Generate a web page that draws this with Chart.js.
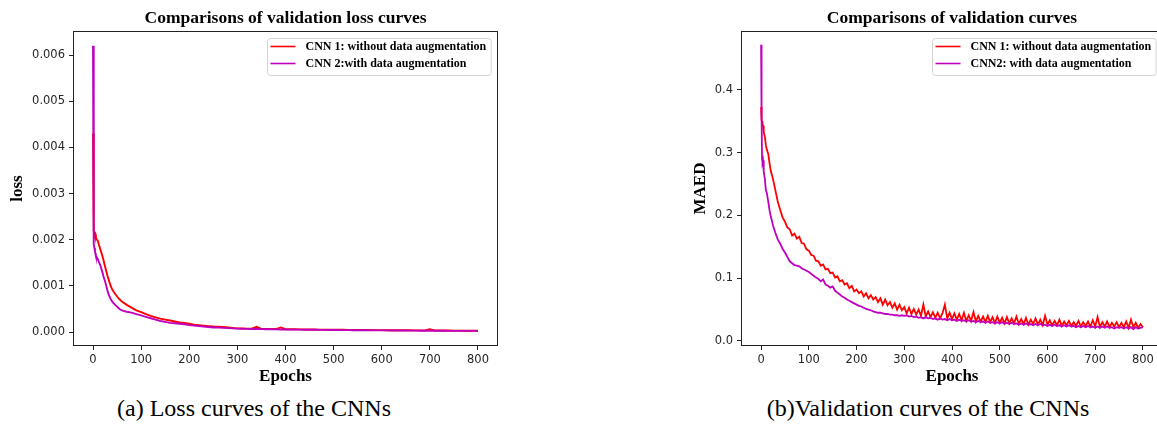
<!DOCTYPE html>
<html>
<head>
<meta charset="utf-8">
<title>Comparisons of validation curves</title>
<script src="https://cdn.jsdelivr.net/npm/chart.js@4.4.0/dist/chart.umd.min.js"></script>
<style>
  html, body { margin: 0; padding: 0; background: #fff; }
  body { width: 1157px; height: 426px; overflow: hidden; position: relative; }
  .panel { position: absolute; top: 0; }
  .caption {
    position: absolute; top: 394px;
    font-family: 'Liberation Serif', serif; font-size: 24px; line-height: 28px;
    color: #000; white-space: nowrap; transform: translateX(-50%);
  }
</style>
</head>
<body>
<canvas id="lossChart" class="panel" width="560" height="390" style="left:0"></canvas>
<canvas id="maedChart" class="panel" width="500" height="390" style="left:680px"></canvas>
<div class="caption" style="left:254px">(a) Loss curves of the CNNs</div>
<div class="caption" style="left:928px">(b)Validation curves of the CNNs</div>
<script>
// tick labels
const epochTicks = [0, 100, 200, 300, 400, 500, 600, 700, 800];
const lossTicks = [0, 0.001, 0.002, 0.003, 0.004, 0.005, 0.006];
const maedTicks = [0, 0.1, 0.2, 0.3, 0.4];

// (a) validation loss, dense at the start then every 10 epochs
const lossEpochs = [0, 1, 2, 3, 4, 5, 6, 8, 10, 12, 15, 18, 20, 22, 25, 28, 30, 33, 36, 40, 45, 50, 55, 60, 70, 80, 90];
for (let e = 100; e <= 800; e += 10) lossEpochs.push(e);

const lossCnn1 = [
  0.0043, 0.0025, 0.0022, 0.00215, 0.0021, 0.00212, 0.00205, 0.002, 0.00198, 0.0019,
  0.0018, 0.0017, 0.00163, 0.00155, 0.00142, 0.0013, 0.00122, 0.00112, 0.00102, 0.00092,
  0.00084, 0.00077, 0.00071, 0.00066, 0.00059, 0.00053, 0.00047,
  // 100 - 190
  0.00043, 0.00039, 0.00035, 0.00032, 0.00029, 0.00027, 0.00025, 0.00023, 0.00021, 0.0002,
  // 200 - 290
  0.00018, 0.00016, 0.00015, 0.00014, 0.00013, 0.00012, 0.000115, 0.00011, 0.0001, 0.00009,
  // 300 - 390
  0.00008, 0.000078, 0.000075, 0.000072, 0.000115, 0.00007, 0.000068, 0.000066, 0.000065, 0.0001,
  // 400 - 490
  0.000062, 0.00006, 0.00006, 0.000058, 0.000057, 0.000056, 0.000055, 0.000054, 0.000053, 0.000052,
  // 500 - 590
  0.00005, 0.00005, 0.000049, 0.000048, 0.000047, 0.000046, 0.000045, 0.000044, 0.000043, 0.000042,
  // 600 - 690
  0.000042, 0.000041, 0.00004, 0.00004, 0.000039, 0.000038, 0.000038, 0.000037, 0.000036, 0.000036,
  // 700 - 790
  0.00006, 0.000035, 0.000034, 0.000033, 0.000033, 0.000032, 0.000031, 0.00003, 0.00003, 0.000029,
  0.000028
];
const lossCnn2 = [
  0.0062, 0.0025, 0.0019, 0.00182, 0.00175, 0.0017, 0.00165, 0.00162, 0.00158, 0.00152,
  0.00145, 0.00135, 0.00128, 0.0012, 0.0011, 0.00098, 0.0009, 0.0008, 0.00073, 0.00066,
  0.0006, 0.00055, 0.0005, 0.00047, 0.00044, 0.00042, 0.00039,
  0.00036, 0.00033, 0.0003, 0.00027, 0.00024, 0.00022, 0.0002, 0.00019, 0.00018, 0.00017,
  0.00015, 0.00014, 0.00013, 0.00012, 0.00011, 0.0001, 0.0001, 0.00009, 0.000085, 0.00008,
  0.000075, 0.000072, 0.00007, 0.000068, 0.000066, 0.000064, 0.000062, 0.00006, 0.000058, 0.000056,
  0.000055, 0.000054, 0.000053, 0.000052, 0.000051, 0.00005, 0.000049, 0.000048, 0.000047, 0.000046,
  0.000045, 0.000044, 0.000043, 0.000042, 0.000041, 0.00004, 0.00004, 0.000039, 0.000038, 0.000037,
  0.000036, 0.000036, 0.000035, 0.000034, 0.000033, 0.000033, 0.000032, 0.000031, 0.00003, 0.00003,
  0.000029, 0.000029, 0.000028, 0.000028, 0.000027, 0.000027, 0.000026, 0.000026, 0.000025, 0.000025,
  0.000025
];

// (b) validation MAED, dense at the start then every 5 epochs
const maedEpochs = [0, 1, 2, 3, 4, 5, 6, 8, 10, 12, 15, 18];
for (let e = 20; e <= 800; e += 5) maedEpochs.push(e);

const maedCnn1 = [
  0.373, 0.352, 0.35, 0.347, 0.343, 0.338, 0.333, 0.325, 0.312, 0.305, 0.298, 0.282,
  // 20 - 95
  0.272, 0.258, 0.24, 0.222, 0.209, 0.197, 0.19, 0.181, 0.178, 0.168, 0.171, 0.163, 0.166, 0.156, 0.155, 0.146,
  // 100 - 195
  0.144, 0.137, 0.136, 0.128, 0.127, 0.12, 0.122, 0.114, 0.115, 0.108, 0.109, 0.101, 0.103, 0.095, 0.097, 0.09, 0.092, 0.084, 0.088, 0.079,
  // 200 - 295
  0.082, 0.076, 0.079, 0.071, 0.076, 0.068, 0.073, 0.066, 0.07, 0.062, 0.068, 0.058, 0.066, 0.057, 0.062, 0.053, 0.06, 0.05, 0.058, 0.049,
  // 300 - 395
  0.054, 0.044, 0.053, 0.043, 0.051, 0.042, 0.05, 0.04, 0.058, 0.039, 0.047, 0.038, 0.046, 0.037, 0.045, 0.036, 0.044, 0.058, 0.036, 0.045,
  // 400 - 495
  0.035, 0.044, 0.034, 0.043, 0.033, 0.045, 0.032, 0.041, 0.032, 0.046, 0.031, 0.04, 0.031, 0.039, 0.03, 0.04, 0.03, 0.038, 0.029, 0.039,
  // 500 - 595
  0.029, 0.037, 0.028, 0.038, 0.028, 0.036, 0.028, 0.039, 0.027, 0.035, 0.027, 0.037, 0.026, 0.034, 0.027, 0.036, 0.026, 0.034, 0.025, 0.04,
  // 600 - 695
  0.026, 0.033, 0.025, 0.032, 0.025, 0.034, 0.024, 0.031, 0.025, 0.032, 0.024, 0.03, 0.024, 0.032, 0.023, 0.03, 0.024, 0.031, 0.023, 0.033,
  // 700 - 795
  0.023, 0.038, 0.022, 0.03, 0.023, 0.031, 0.022, 0.029, 0.023, 0.03, 0.022, 0.029, 0.022, 0.031, 0.021, 0.034, 0.022, 0.029, 0.021, 0.027,
  0.022
];
const maedCnn2 = [
  0.472, 0.36, 0.29, 0.285, 0.288, 0.28, 0.27, 0.258, 0.24, 0.236, 0.222, 0.207,
  0.2, 0.184, 0.172, 0.162, 0.155, 0.147, 0.141, 0.134, 0.127, 0.124, 0.121, 0.12, 0.119, 0.116, 0.114, 0.112,
  0.11, 0.107, 0.104, 0.101, 0.099, 0.095, 0.098, 0.09, 0.088, 0.085, 0.087, 0.08, 0.077, 0.074, 0.071, 0.069, 0.066, 0.064, 0.062, 0.06,
  0.058, 0.056, 0.055, 0.053, 0.051, 0.05, 0.049, 0.047, 0.046, 0.045, 0.045, 0.044, 0.043, 0.043, 0.042, 0.042, 0.041, 0.041, 0.04, 0.041,
  0.04, 0.041, 0.039, 0.04, 0.038, 0.039, 0.037, 0.038, 0.036, 0.038, 0.036, 0.037, 0.035, 0.036, 0.034, 0.036, 0.034, 0.035, 0.033, 0.035,
  0.033, 0.034, 0.032, 0.034, 0.032, 0.033, 0.031, 0.033, 0.031, 0.032, 0.03, 0.032, 0.03, 0.031, 0.029, 0.031, 0.029, 0.03, 0.028, 0.03,
  0.028, 0.03, 0.027, 0.029, 0.027, 0.029, 0.027, 0.028, 0.026, 0.028, 0.026, 0.028, 0.026, 0.027, 0.025, 0.027, 0.025, 0.027, 0.025, 0.026,
  0.024, 0.026, 0.024, 0.026, 0.024, 0.025, 0.023, 0.025, 0.023, 0.025, 0.023, 0.024, 0.022, 0.024, 0.022, 0.024, 0.022, 0.024, 0.022, 0.023,
  0.021, 0.023, 0.021, 0.023, 0.021, 0.023, 0.021, 0.022, 0.02, 0.022, 0.021, 0.022, 0.02, 0.022, 0.02, 0.022, 0.019, 0.022, 0.02, 0.021,
  0.022
];

const SERIF = "'Liberation Serif', 'Times New Roman', serif";
const SANS = "'DejaVu Sans', sans-serif";

function toPoints(xs, ys) {
  if (xs.length !== ys.length) console.warn('length mismatch', xs.length, ys.length);
  return xs.map((x, i) => ({ x: x, y: ys[i] }));
}

// matplotlib style box round the plot area
const framePlugin = {
  id: 'frame',
  afterDraw(chart) {
    const { ctx, chartArea: a } = chart;
    ctx.save();
    ctx.strokeStyle = '#222';
    ctx.lineWidth = 1;
    ctx.strokeRect(Math.round(a.left) - 0.5, Math.round(a.top) - 0.5,
      Math.round(a.right - a.left) + 1, Math.round(a.bottom - a.top) + 1);
    ctx.restore();
  }
};

// legend in the upper right corner, inside the plot
const legendPlugin = {
  id: 'insideLegend',
  afterDraw(chart) {
    const { ctx, chartArea } = chart;
    const sets = chart.data.datasets;
    ctx.save();
    ctx.font = 'bold 12px ' + SERIF;
    const textW = Math.max(...sets.map(d => ctx.measureText(d.label).width));
    const w = 3 + 25 + 10 + textW + 5, h = 37;
    const x = Math.round(chartArea.right - 6 - w) + 0.5;
    const y = Math.round(chartArea.top + 6) + 0.5;
    ctx.beginPath();
    ctx.roundRect(x, y, w, h, 3);
    ctx.fillStyle = 'rgba(255,255,255,0.8)';
    ctx.fill();
    ctx.strokeStyle = '#d4d4d4';
    ctx.lineWidth = 1;
    ctx.stroke();
    sets.forEach((d, i) => {
      const ly = y + 8 + i * 17;
      ctx.strokeStyle = d.borderColor;
      ctx.lineWidth = 1.6;
      ctx.beginPath();
      ctx.moveTo(x + 3, ly);
      ctx.lineTo(x + 28, ly);
      ctx.stroke();
      ctx.fillStyle = '#000';
      ctx.textAlign = 'left';
      ctx.textBaseline = 'middle';
      ctx.fillText(d.label, x + 38, ly);
    });
    ctx.restore();
  }
};

function buildChart(id, cfg) {
  const ctx = document.getElementById(id).getContext('2d');
  return new Chart(ctx, {
    type: 'line',
    data: {
      datasets: [
        { label: cfg.labels[0], data: toPoints(cfg.epochs, cfg.cnn1), borderColor: '#ff0000', borderWidth: cfg.lineWidth, order: 1 },
        { label: cfg.labels[1], data: toPoints(cfg.epochs, cfg.cnn2), borderColor: '#bf00bf', borderWidth: cfg.lineWidth, order: 0 }
      ]
    },
    options: {
      responsive: false,
      animation: false,
      devicePixelRatio: 1,
      layout: { padding: { left: 0, right: cfg.padRight, top: 0, bottom: 0 } },
      elements: { point: { radius: 0 }, line: { tension: 0 } },
      plugins: {
        legend: { display: false },
        tooltip: { enabled: false },
        title: {
          display: true, text: cfg.title, fullSize: false, color: '#000',
          font: { family: SERIF, size: 17.5, weight: 'bold', lineHeight: 1.2 },
          padding: { top: 7.5, bottom: 3.5 }
        }
      },
      scales: {
        x: {
          type: 'linear', min: cfg.xMin, max: cfg.xMax,
          afterFit: s => { s.height = 45; },
          afterBuildTicks: s => { s.ticks = epochTicks.map(v => ({ value: v })); },
          ticks: { color: '#262626', font: { family: SANS, size: 11.5 }, padding: 3, maxRotation: 0, autoSkip: false },
          grid: { display: true, drawOnChartArea: false, drawTicks: true, tickLength: 5, color: '#222' },
          border: { display: false },
          title: {
            display: true, text: 'Epochs', color: '#000',
            font: { family: SERIF, size: 17, weight: 'bold', lineHeight: 1.2 },
            padding: { top: 0, bottom: 3 }
          }
        },
        y: {
          type: 'linear', min: cfg.yMin, max: cfg.yMax,
          afterFit: s => { s.width = cfg.yWidth; },
          afterBuildTicks: s => { s.ticks = cfg.yTicks.map(v => ({ value: v })); },
          ticks: {
            color: '#262626', font: { family: SANS, size: 11.5 }, padding: 4, autoSkip: false,
            callback: v => v.toFixed(cfg.decimals)
          },
          grid: { display: true, drawOnChartArea: false, drawTicks: true, tickLength: 5, color: '#222' },
          border: { display: false },
          title: {
            display: true, text: cfg.yTitle, color: '#000',
            font: { family: SERIF, size: 17, weight: 'bold', lineHeight: 1.2 },
            padding: { top: cfg.yTitlePad, bottom: 0 }
          }
        }
      }
    },
    plugins: [framePlugin, legendPlugin]
  });
}

buildChart('lossChart', {
  title: 'Comparisons of validation loss curves',
  labels: ['CNN 1: without data augmentation', 'CNN 2:with data augmentation'],
  epochs: lossEpochs, cnn1: lossCnn1, cnn2: lossCnn2,
  xMin: -39.5, xMax: 839.5,
  yMin: -0.00028, yMax: 0.0065, yTicks: lossTicks, decimals: 3,
  yTitle: 'loss', yWidth: 74, yTitlePad: 7, padRight: 63, lineWidth: 1.9
});

buildChart('maedChart', {
  title: 'Comparisons of validation curves',
  labels: ['CNN 1: without data augmentation', 'CNN2: with data augmentation'],
  epochs: maedEpochs, cnn1: maedCnn1, cnn2: maedCnn2,
  xMin: -40, xMax: 840,
  yMin: -0.0064, yMax: 0.4924, yTicks: maedTicks, decimals: 1,
  yTitle: 'MAED', yWidth: 62, yTitlePad: 10, padRight: 18, lineWidth: 1.8
});
</script>
</body>
</html>
